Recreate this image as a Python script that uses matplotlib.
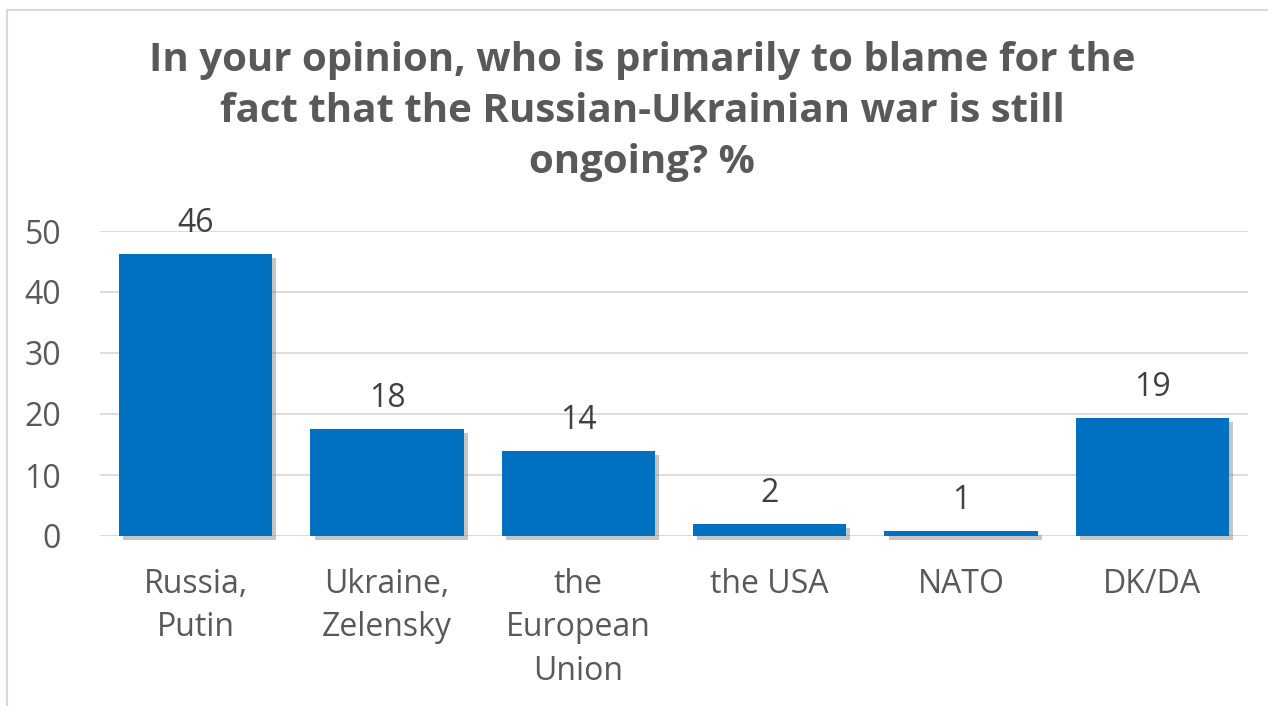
import matplotlib.pyplot as plt
import matplotlib.patheffects as pe
from matplotlib.patches import Rectangle

categories = ["Russia,\nPutin", "Ukraine,\nZelensky", "the\nEuropean\nUnion", "the USA", "NATO", "DK/DA"]
values = [46.2, 17.6, 13.9, 2.0, 0.8, 19.3]
labels = ["46", "18", "14", "2", "1", "19"]
yticks = [0, 10, 20, 30, 40, 50]

plt.rcParams['font.family'] = ['Open Sans', 'DejaVu Sans']

fig = plt.figure(figsize=(12.68, 7.06), dpi=100)
ax = fig.add_axes([100 / 1268, 1 - 536 / 706, 1148 / 1268, 305 / 706])

# outer frame of the chart
fig.patches.append(Rectangle((7 / 1268, -0.01), 1.0, 1 - 10 / 706 + 0.01,
                             transform=fig.transFigure, fill=False,
                             edgecolor="#d9d9d9", linewidth=1.5))

x = range(len(categories))
bars = ax.bar(x, values, width=0.8, color="#0070c0", zorder=3)
for b in bars:
    b.set_path_effects([pe.SimplePatchShadow(offset=(3, -3), shadow_rgbFace="#808080", alpha=0.45),
                        pe.Normal()])
    b.set_clip_on(False)

for i, (v, t) in enumerate(zip(values, labels)):
    ax.text(i, v + 2.3, t, ha="center", va="bottom", fontsize=23, color="#404040")

ax.set_xlim(-0.5, len(categories) - 0.5)
ax.set_ylim(0, 50)
ax.set_yticks(yticks)
ax.set_xticks(list(x))
ax.set_xticklabels(categories, fontsize=23, color="#595959", linespacing=1.42)
ax.tick_params(axis="y", labelsize=23, labelcolor="#595959", length=0, pad=28)
ax.tick_params(axis="x", length=0, pad=23)
ax.grid(axis="y", color="#d9d9d9", linewidth=1.3, zorder=0)
ax.set_axisbelow(True)
for s in ax.spines.values():
    s.set_visible(False)
ax.axhline(0, color="#d9d9d9", linewidth=1.3, zorder=2)

fig.text(642 / 1268, 1 - 111 / 706,
         "In your opinion, who is primarily to blame for the\nfact that the Russian-Ukrainian war is still\nongoing? %",
         ha="center", va="center", fontsize=29, fontweight="bold", color="#595959", linespacing=1.4)

fig.savefig("out.png", dpi=100)
